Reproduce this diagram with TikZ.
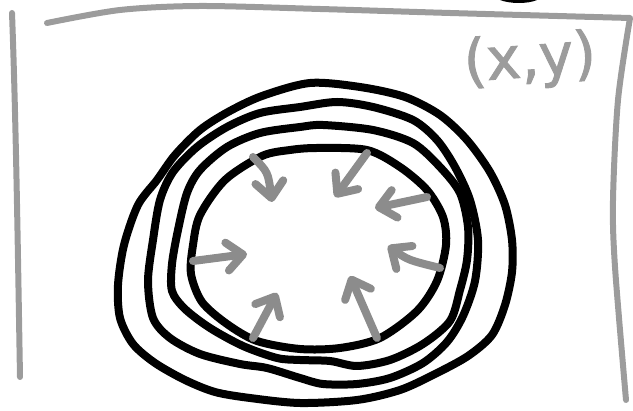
\documentclass[tikz,border=0pt]{standalone}
\usepackage{tikz}
\usepackage{fontspec}
\usetikzlibrary{arrows.meta}
\definecolor{rimgray}{HTML}{9C9C9C}
\definecolor{flowgray}{HTML}{8C8C8C}
\newfontfamily\sketchfont[FakeBold=1.6]{DejaVu Sans}

\begin{document}
\begin{tikzpicture}[x=0.2mm,y=-0.2mm,
  ring/.style={line width=1.6mm,line join=round},
  rim/.style={rimgray,line width=1.2mm,line cap=round,line join=round},
  flow/.style={flowgray,line width=1.6mm,line cap=round,
    -{Straight Barb[round,length=3.2mm,width=5.6mm]}}]
  \useasboundingbox (0,0) rectangle (633,411);
  % frame
  \draw[rim] (12,13) .. controls (16,120) and (18,260) .. (20,377);
  \draw[rim] plot[smooth] coordinates {(47,23) (120,10) (200,6) (320,9) (450,13) (630,18)}
    -- plot[smooth] coordinates {(630,18) (618,100) (613,200) (615,267) (626,400)};
  \fill (500,0) .. controls (510,4) and (528,4) .. (537,0) -- cycle;
  \node[rimgray,font=\sketchfont\fontsize{33}{33}\selectfont,rotate=4] (pos) at (530,61) {(x,y)};
  % rings
  \draw[ring] plot[smooth cycle] coordinates {(310,83) (360,87) (405,97) (440,115) (467,140)
    (490,172) (505,205) (512,240) (512,272) (505,305) (492,335) (468,356) (435,374)
    (400,390) (357,400) (300,403) (250,398) (215,392) (185,380) (155,363) (133,344)
    (120,318) (118,285) (124,245) (138,205) (157,180) (175,155) (200,130) (228,112) (262,96)};
  \draw[ring] plot[smooth cycle] coordinates {(300,107) (337,102) (373,107) (413,120) (437,140)
    (455,167) (470,200) (478,240) (475,281) (463,316) (447,342) (423,363) (390,378)
    (357,384) (323,384) (300,378) (267,368) (240,364) (200,354) (170,338) (153,318)
    (148,281) (153,240) (160,200) (173,172) (197,147) (227,127) (260,113)};
  \draw[ring] plot[smooth cycle] coordinates {(300,127) (323,125) (373,130) (413,143) (440,167)
    (460,193) (468,227) (467,260) (460,290) (450,321) (423,344) (390,360) (357,366)
    (330,361) (300,360) (277,358) (243,346) (210,328) (185,309) (172,291) (172,264)
    (178,230) (187,193) (200,170) (227,147) (260,133)};
  \draw[ring] plot[smooth cycle] coordinates {(317,148) (367,150) (400,167) (427,190) (443,217)
    (446,245) (437,281) (417,311) (380,338) (340,348) (300,349) (257,341) (227,324)
    (202,302) (191,274) (193,245) (200,215) (225,180) (262,156) (290,150)};
  % arrows pointing in
  \draw[flow] (253,157) .. controls (268,172) .. (272,202);
  \draw[flow] (440,268) .. controls (408,260) .. (388,246);
  \foreach \xa/\ya/\xb/\yb in {367/153/335/197, 427/197/375/208, 377/338/350/276,
    253/338/277/293, 193/261/247/254}
    \draw[flow] (\xa,\ya) -- (\xb,\yb);
\end{tikzpicture}
\end{document}
